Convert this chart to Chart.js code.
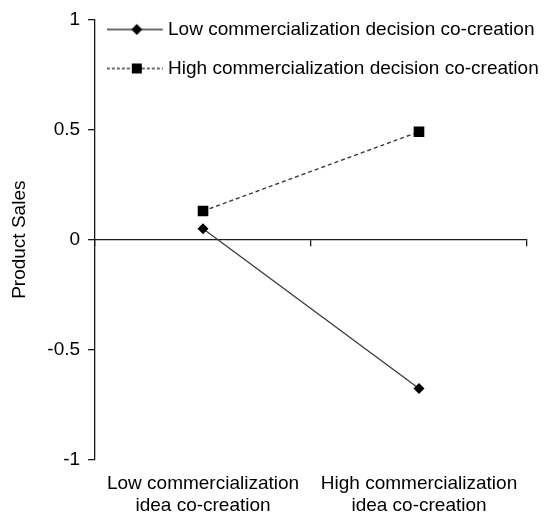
<!DOCTYPE html>
<html>
<head>
<meta charset="utf-8">
<script src="https://cdn.jsdelivr.net/npm/chart.js@4"></script>
<style>
    html, body { margin: 0; padding: 0; background: #fff; }
    #wrap { width: 545px; height: 516px; }
</style>
</head>
<body>
<div id="wrap"><canvas id="chart"></canvas></div>
<script>
// chart data
const categories = [
    ['Low commercialization', 'idea co-creation'],
    ['High commercialization', 'idea co-creation']
];
const seriesNames = [
    'Low commercialization decision co-creation',
    'High commercialization decision co-creation'
];
const lowDecision = [0.05, -0.675];
const highDecision = [0.13, 0.49];
const yTicks = [-1, -0.5, 0, 0.5, 1];

const FONT = "'Liberation Sans', Arial, sans-serif";

// little line+marker pictures for the legend
function legendIcon(style, dashed) {
    const c = document.createElement('canvas');
    c.width = 60;
    c.height = 16;
    const g = c.getContext('2d');
    g.strokeStyle = '#3a3a3a';
    g.lineWidth = 1.3;
    if (dashed) g.setLineDash([3, 2]);
    g.beginPath();
    g.moveTo(0, 8);
    g.lineTo(56, 8);
    g.stroke();
    g.setLineDash([]);
    g.fillStyle = '#000';
    g.beginPath();
    if (style == 'rectRot') {
        g.moveTo(30, 2.5);
        g.lineTo(35.5, 8);
        g.lineTo(30, 13.5);
        g.lineTo(24.5, 8);
    } else {
        g.rect(25, 3, 10, 10);
    }
    g.fill();
    return c;
}
const icons = [legendIcon('rectRot', false), legendIcon('rect', true)];

// the legend sits inside the plot but its text runs past the right edge
const legendWidthFix = {
    id: 'legendWidthFix',
    afterLayout: function(chart) {
        if (chart.legend) {
            chart.legend.right = chart.width;
        }
    }
};

const config = {
    type: 'line',
    data: {
        labels: categories,
        datasets: [
            {
                label: seriesNames[0],
                data: lowDecision,
                borderColor: '#3a3a3a',
                borderWidth: 1.3,
                pointStyle: 'rectRot',
                pointRadius: 5.5,
                pointBackgroundColor: '#000',
                pointBorderColor: '#000',
                pointBorderWidth: 0,
                tension: 0
            },
            {
                label: seriesNames[1],
                data: highDecision,
                borderColor: '#3a3a3a',
                borderWidth: 1.4,
                borderDash: [4, 3],
                pointStyle: 'rect',
                pointRadius: 7.5,
                pointBackgroundColor: '#000',
                pointBorderColor: '#000',
                pointBorderWidth: 0,
                tension: 0
            }
        ]
    },
    options: {
        responsive: true,
        maintainAspectRatio: false,
        animation: false,
        events: [],
        layout: {
            padding: { left: 0, right: 18, top: 17, bottom: 0 }
        },
        plugins: {
            tooltip: { enabled: false },
            legend: {
                position: 'chartArea',
                align: 'start',
                maxWidth: 545,
                labels: {
                    usePointStyle: true,
                    pointStyleWidth: 43.5,
                    padding: 20,
                    color: '#000',
                    font: { family: FONT, size: 19 },
                    generateLabels: function(chart) {
                        const items = Chart.defaults.plugins.legend.labels.generateLabels(chart);
                        items.forEach(function(item, i) {
                            item.pointStyle = icons[i];
                        });
                        return items;
                    }
                }
            }
        },
        scales: {
            x: {
                type: 'category',
                position: 'bottom',
                offset: true,
                border: { display: false },
                grid: { display: false, drawTicks: true, tickLength: 14 },
                ticks: {
                    color: '#000',
                    padding: -1,
                    maxRotation: 0,
                    autoSkip: false,
                    font: { family: FONT, size: 19, lineHeight: '22px' }
                }
            },
            x0: {
                type: 'category',
                position: { y: 0 },
                offset: true,
                border: { display: true, color: '#1a1a1a', width: 1.3 },
                grid: {
                    offset: true,
                    drawOnChartArea: false,
                    drawTicks: true,
                    tickLength: 6,
                    color: '#1a1a1a',
                    lineWidth: 1.3
                },
                ticks: { display: false }
            },
            y: {
                min: -1,
                max: 1,
                afterBuildTicks: function(axis) {
                    axis.ticks = yTicks.map(v => ({ value: v }));
                },
                border: { display: true, color: '#1a1a1a', width: 1.3 },
                grid: {
                    drawOnChartArea: false,
                    tickLength: 7,
                    color: '#1a1a1a',
                    lineWidth: 1.3
                },
                ticks: {
                    color: '#000',
                    padding: 8,
                    font: { family: FONT, size: 19 },
                    callback: function(value) {
                        return String(value);
                    }
                },
                title: {
                    display: true,
                    text: 'Product Sales',
                    color: '#000',
                    padding: { top: 8.6, bottom: 7.9 },
                    font: { family: FONT, size: 19 }
                }
            }
        }
    },
    plugins: [legendWidthFix]
};

window.productChart = new Chart(document.getElementById('chart'), config);
</script>
</body>
</html>
